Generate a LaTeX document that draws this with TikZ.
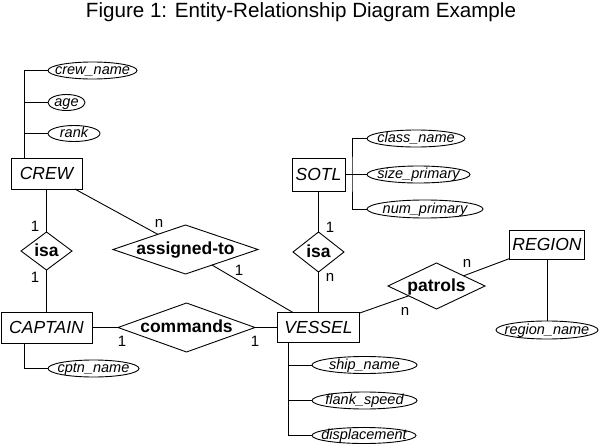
\documentclass[tikz,border=0pt]{standalone}
\usepackage{fontspec}
\setmainfont{Liberation Sans}
\usetikzlibrary{shapes.geometric}
\newcommand\zbox[2][0.34em]{\raisebox{-#1}[0pt][0pt]{\makebox[0pt]{#2}}}
\tikzset{
  sz/.style 2 args={minimum width=#1pt, minimum height=#2pt},
  ent/.style={draw, rectangle, inner sep=0pt, outer sep=0pt, line width=0.9pt,
    font=\itshape\fontsize{17.5}{20}\selectfont},
  rel/.style={draw, diamond, aspect=1, inner sep=0pt, outer sep=0pt, line width=0.9pt,
    font=\bfseries\fontsize{17.5}{20}\selectfont},
  att/.style={draw, ellipse, inner sep=0pt, outer sep=0pt, line width=0.9pt,
    font=\itshape\fontsize{14.5}{17}\selectfont},
  card/.style={inner sep=0pt, font=\fontsize{15}{17}\selectfont},
  conn/.style={draw, line width=0.9pt},
  ttl/.style={inner sep=0pt, font=\fontsize{20.6}{24}\selectfont}
}
\begin{document}
\begin{tikzpicture}[x=1pt,y=-1pt]
\useasboundingbox[fill=white] (0,0) rectangle (600,447);
\node[ttl] (title) at (301,10) {\zbox[0.36em]{Figure 1: Entity-Relationship Diagram Example}};

% entities
\node[ent, sz={71}{31}] (crew) at (46.5,173.5) {\zbox{CREW}};
\node[ent, sz={91}{31}] (captain) at (46.5,327.5) {\zbox{CAPTAIN}};
\node[ent, sz={82}{30}] (vessel) at (318.5,327.5) {\zbox{VESSEL}};
\node[ent, sz={53}{33}] (sotl) at (318.5,174.5) {\zbox{SOTL}};
\node[ent, sz={75}{29}] (region) at (547,244.5) {\zbox{REGION}};

% relationships
\node[rel, sz={51}{38}] (isaA) at (46.5,251) {\zbox[0.3em]{isa}};
\node[rel, sz={51}{40}] (isaB) at (318.5,252) {\zbox[0.3em]{isa}};
\node[rel, sz={145}{49}] (assign) at (185.5,249.5) {\zbox[0.3em]{assigned-to}};
\node[rel, sz={137}{49}] (commands) at (186.5,327.5) {\zbox[0.3em]{commands}};
\node[rel, sz={97}{46}] (patrols) at (436.5,286) {\zbox[0.3em]{patrols}};

% attributes
\node[att, sz={89}{17}] (crewname) at (92.5,70.5) {\zbox[0.28em]{crew\_name}};
\node[att, sz={37}{16}] (age) at (66.5,102.5) {\zbox[0.28em]{age}};
\node[att, sz={52}{16}] (rank) at (74,133.5) {\zbox[0.28em]{rank}};
\node[att, sz={91}{17}] (cptn) at (93.5,368.5) {\zbox[0.28em]{cptn\_name}};
\node[att, sz={105}{17}] (ship) at (364.5,365) {\zbox[0.28em]{ship\_name}};
\node[att, sz={105}{17}] (flank) at (364.5,400.5) {\zbox[0.28em]{flank\_speed}};
\node[att, sz={104}{16}] (disp) at (364,435.5) {\zbox[0.28em]{displacement}};
\node[att, sz={98}{17}] (classname) at (416,138.5) {\zbox[0.28em]{class\_name}};
\node[att, sz={103}{17}] (sizeprim) at (418.5,174.5) {\zbox[0.28em]{size\_primary}};
\node[att, sz={116}{18}] (numprim) at (425,209) {\zbox[0.28em]{num\_primary}};
\node[att, sz={102}{18}] (regionname) at (547,330) {\zbox[0.28em]{region\_name}};

% attribute trunks
\coordinate (crewT) at (24,158);
\coordinate (capT) at (24,343);
\coordinate (vesT) at (288,342.5);
\coordinate (sotT) at (352,174.5);

\draw[conn] (crewT) |- (crewname.west);
\draw[conn] (age.west) -- (age.west -| crewT);
\draw[conn] (rank.west) -- (rank.west -| crewT);
\draw[conn] (capT) |- (cptn.west);
\draw[conn] (vesT) |- (disp.west);
\draw[conn] (ship.west) -- (ship.west -| vesT);
\draw[conn] (flank.west) -- (flank.west -| vesT);
\draw[conn] (classname.west) -| (sotT) |- (numprim.west);
\draw[conn] (sotl.east) -- (sizeprim.west);
\draw[conn] (region.south) -- (regionname.north);

% relationship connectors
\draw[conn] (crew) -- (isaA);
\draw[conn] (isaA) -- (captain);
\draw[conn] (captain) -- (commands);
\draw[conn] (commands) -- (vessel);
\draw[conn] (crew) -- (assign);
\draw[conn] (assign) -- (vessel);
\draw[conn] (sotl) -- (isaB);
\draw[conn] (isaB) -- (vessel);
\draw[conn] (vessel) -- (patrols);
\draw[conn] (patrols) -- (region);

% cardinalities
\node[card] (k1) at (35,226) {1};
\node[card] (k2) at (35,277) {1};
\node[card] (k3) at (159,223) {n};
\node[card] (k4) at (239,270) {1};
\node[card] (k5) at (122,341) {1};
\node[card] (k6) at (255,341) {1};
\node[card] (k7) at (330,227) {1};
\node[card] (k8) at (330,277) {n};
\node[card] (k9) at (405,311) {n};
\node[card] (k10) at (467,263) {n};
\end{tikzpicture}
\end{document}
